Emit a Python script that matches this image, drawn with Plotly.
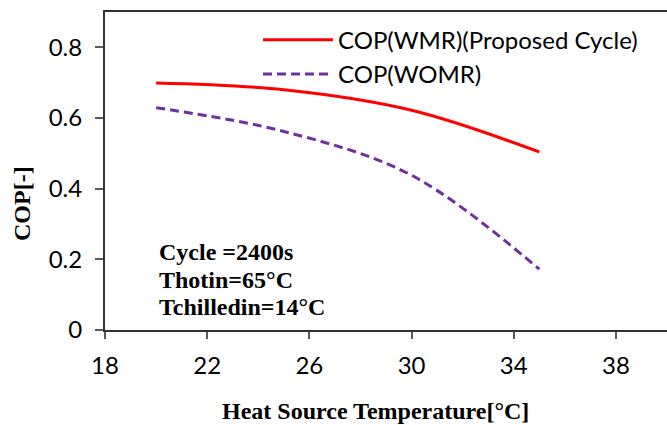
import plotly.graph_objects as go

temps = [20, 25, 30, 35]
cop_wmr = [0.699, 0.680, 0.622, 0.504]
cop_womr = [0.629, 0.562, 0.438, 0.172]
names = ["COP(WMR)(Proposed Cycle)", "COP(WOMR)"]
x_ticks = [18, 22, 26, 30, 34, 38]
y_ticks = [0, 0.2, 0.4, 0.6, 0.8]
y_ticklabels = ["0", "0.2", "0.4", "0.6", "0.8"]
notes = ["Cycle =2400s", "Thotin=65°C", "Tchilledin=14°C"]

fig = go.Figure()
fig.add_trace(go.Scatter(x=temps, y=cop_wmr, mode="lines", name=names[0],
                         line=dict(color="#FF0000", width=3, shape="spline")))
fig.add_trace(go.Scatter(x=temps, y=cop_womr, mode="lines", name=names[1],
                         line=dict(color="#7030A0", width=3, shape="spline", dash="9px,5px")))

tick_font = dict(family="Lato", size=24, color="black")
L, T, W, H = 105, 12, 562, 318
fig.update_layout(
    width=667, height=425,
    margin=dict(l=L, r=0, t=T, b=95),
    plot_bgcolor="white", paper_bgcolor="white",
    showlegend=True,
    legend=dict(x=(258 - L) / W, y=0.982, xanchor="left", yanchor="top",
                font=dict(family="Lato", size=24, color="black"),
                bgcolor="rgba(0,0,0,0)", itemwidth=70, tracegroupgap=0),
    xaxis=dict(range=[18, 40], tickvals=x_ticks, ticks="outside", ticklen=7,
               tickcolor="#595959", tickwidth=1.5, showgrid=False, zeroline=False,
               showline=True, linecolor="#333333", linewidth=2, mirror=True,
               tickfont=tick_font, ticklabelstandoff=6),
    yaxis=dict(range=[0, 0.9], tickvals=y_ticks, ticktext=y_ticklabels, ticks="outside",
               ticklen=8, tickcolor="#595959", tickwidth=1.5, showgrid=False, zeroline=False,
               showline=True, linecolor="#333333", linewidth=2, mirror=False,
               tickfont=tick_font, ticklabelstandoff=8),
)

serif_bold = dict(family="Liberation Serif", size=24, color="black")
for i, t in enumerate(notes):
    fig.add_annotation(x=(157 - L) / W, y=1 - (252 + 27.5 * i - T) / H, xref="paper", yref="paper",
                       text=f"<b>{t}</b>", showarrow=False, xanchor="left", yanchor="middle",
                       font=serif_bold)
fig.add_annotation(x=(375 - L) / W, y=1 - (411 - T) / H, xref="paper", yref="paper",
                   text="<b>Heat Source Temperature[°C]</b>", showarrow=False,
                   xanchor="center", yanchor="middle", font=serif_bold)
fig.add_annotation(x=(22 - L) / W, y=1 - (204 - T) / H, xref="paper", yref="paper",
                   text="<b>COP[-]</b>", showarrow=False, textangle=-90,
                   xanchor="center", yanchor="middle", font=serif_bold)

fig.write_html("out.html")
